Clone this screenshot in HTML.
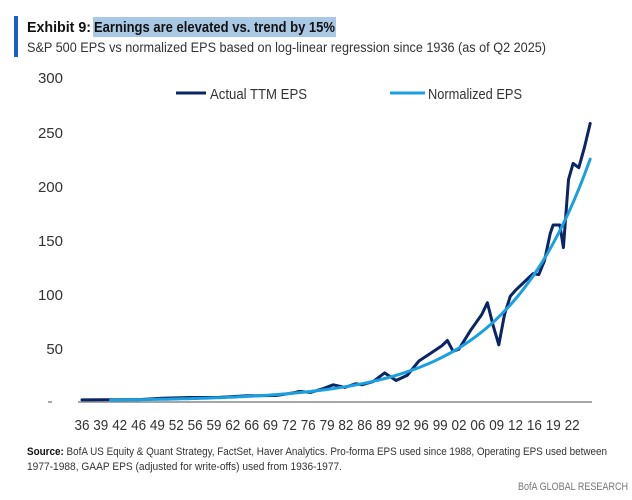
<!DOCTYPE html>
<html><head><meta charset="utf-8"><style>
body{margin:0;background:#fff;width:632px;height:500px;overflow:hidden;font-family:"Liberation Sans",sans-serif}
</style></head><body>
<svg width="632" height="500" style="position:absolute;left:0;top:0" font-family="Liberation Sans">
<rect x="14" y="16" width="4" height="41" fill="#1a5fc9"/>
<rect x="93" y="17" width="243" height="20" fill="#a9c8e4"/>
<text x="27" y="32" font-size="14.5" font-weight="bold" fill="#111" textLength="64" lengthAdjust="spacingAndGlyphs">Exhibit 9:</text>
<text x="94" y="32" font-size="14.5" font-weight="bold" fill="#111" textLength="241" lengthAdjust="spacingAndGlyphs">Earnings are elevated vs. trend by 15%</text>
<text x="27" y="52" font-size="14" fill="#333" textLength="519" lengthAdjust="spacingAndGlyphs">S&amp;P 500 EPS vs normalized EPS based on log-linear regression since 1936 (as of Q2 2025)</text>
<g font-size="15" fill="#333" text-anchor="end">
<text x="63" y="83">300</text><text x="63" y="138">250</text><text x="63" y="192">200</text>
<text x="63" y="246">150</text><text x="63" y="300">100</text><text x="63" y="354">50</text>
</g>
<line x1="48" y1="402" x2="52" y2="402" stroke="#555" stroke-width="1"/>
<line x1="78" y1="402" x2="592" y2="402" stroke="#888" stroke-width="1.5"/>
<g id="xl" font-size="15" fill="#333" text-anchor="middle"></g>
<line x1="176" y1="93" x2="206" y2="93" stroke="#0a2466" stroke-width="3"/>
<text x="210" y="99" font-size="15" fill="#333" textLength="97" lengthAdjust="spacingAndGlyphs">Actual TTM EPS</text>
<line x1="390" y1="93" x2="425" y2="93" stroke="#1aa0e0" stroke-width="3"/>
<text x="428" y="99" font-size="15" fill="#333" textLength="94" lengthAdjust="spacingAndGlyphs">Normalized EPS</text>
<polyline id="a" fill="none" stroke="#0a2466" stroke-width="3" stroke-linejoin="round" stroke-linecap="round"/>
<polyline id="n" fill="none" stroke="#1aa0e0" stroke-width="3" stroke-linejoin="round" stroke-linecap="round"/>
<text x="27" y="455" font-size="11" fill="#333" textLength="580" lengthAdjust="spacingAndGlyphs"><tspan font-weight="bold" fill="#111">Source:</tspan> BofA US Equity &amp; Quant Strategy, FactSet, Haver Analytics. Pro-forma EPS used since 1988, Operating EPS used between</text>
<text x="27" y="470" font-size="11" fill="#333" textLength="315" lengthAdjust="spacingAndGlyphs">1977-1988, GAAP EPS (adjusted for write-offs) used from 1936-1977.</text>
<text x="518" y="490" font-size="11" fill="#777" textLength="110" lengthAdjust="spacingAndGlyphs">BofA GLOBAL RESEARCH</text>
</svg>
<script>
var X=function(y){return 82+(y-1936)*5.71},Y=function(v){return 401-v*1.08};
var lab="36 39 42 46 49 52 56 59 62 66 69 72 76 79 82 86 89 92 96 99 02 06 09 12 16 19 22".split(" ");
var g=document.getElementById("xl"),s="";
lab.forEach(function(l,i){s+='<text x="'+(82+i*18.85).toFixed(1)+'" y="430" textLength="15" lengthAdjust="spacingAndGlyphs">'+l+'</text>'});g.innerHTML=s;
var d=[[1936,1],[1940,1.1],[1946,1.3],[1950,2.5],[1955,3.2],[1960,3.3],[1965,4.8],[1970,5.1],[1973,7.5],[1974,8.9],[1976,8],[1978,11],[1980,15],[1982,12.6],[1984,16],[1985,15],[1987,18],[1989,26],[1991,19],[1993,24],[1995,37],[1997,44],[1999,51],[2000,56],[2001,46],[2002,48],[2004,65],[2006,80],[2007,91],[2008,70],[2009,52],[2010,80],[2011,97],[2012,103],[2014,113],[2015,118],[2016,117],[2017,130],[2018,155],[2018.5,163],[2019.7,163],[2020.3,142],[2021.2,205],[2022,220],[2023,216],[2024,235],[2025,257]];
document.getElementById("a").setAttribute("points",d.map(function(p){return X(p[0]).toFixed(1)+","+Y(p[1]).toFixed(1)}).join(" "));
var n=[];for(var y=1941;y<=2025;y+=0.5){n.push(X(y).toFixed(1)+","+Y(224*Math.exp(-0.066*(2025-y))).toFixed(1))}
document.getElementById("n").setAttribute("points",n.join(" "));
</script>
</body></html>
